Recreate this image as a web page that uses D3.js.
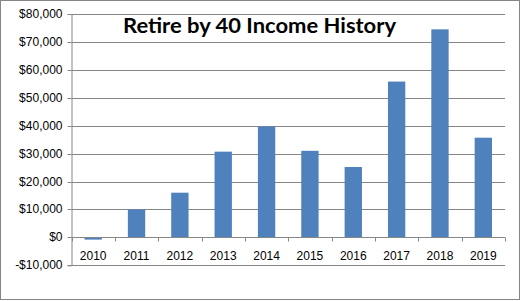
<!DOCTYPE html>
<html><head><meta charset="utf-8">
<script src="https://cdn.jsdelivr.net/npm/d3@7"></script>
<style>body{margin:0;background:#fff}svg{display:block}</style>
</head><body>
<script>
const years = ["2010","2011","2012","2013","2014","2015","2016","2017","2018","2019"];
const income = [-800, 10000, 16000, 30700, 39700, 31000, 25200, 55800, 74500, 35700];
const yTicks = [-10000, 0, 10000, 20000, 30000, 40000, 50000, 60000, 70000, 80000];
const chartTitle = "Retire by 40 Income History";

(function(){
const W = 521, H = 301;
const svg = d3.select("body").append("svg").attr("width", W).attr("height", H);
svg.append("rect").attr("x",0.5).attr("y",0.5).attr("width",519).attr("height",299)
  .attr("fill","#fff").attr("stroke","#868686");

const pL = 71.5, pR = 505, pT = 14, pB = 265.3;
const y = d3.scaleLinear().domain([-10000, 80000]).range([pB, pT]);
const x = d3.scaleBand().domain(years).range([pL, pR]).paddingInner(0.6).paddingOuter(0.3);
const xb = d3.scaleBand().domain(years).range([pL, pR]);

// gridlines
svg.append("g").selectAll("line").data(yTicks).join("line")
  .attr("x1", pL).attr("x2", pR)
  .attr("y1", d => Math.round(y(d)) + 0.5).attr("y2", d => Math.round(y(d)) + 0.5)
  .attr("stroke", "#868686").attr("stroke-width", 1);

// y axis
const yAxis = d3.axisLeft(y).tickValues(yTicks).tickSize(4).tickPadding(5)
  .tickFormat(d => (d < 0 ? "-$" : "$") + d3.format(",")(Math.abs(d)));
const gy = svg.append("g").attr("transform", `translate(${pL},0)`).call(yAxis);
gy.select(".domain").attr("stroke", "#868686");
gy.selectAll(".tick line").attr("stroke", "#868686");
gy.selectAll(".tick").attr("transform", d => `translate(0,${Math.round(y(d)) + 0.5})`);
gy.selectAll("text").attr("font-family", "Liberation Sans, Arial, sans-serif")
  .attr("font-size", 12).attr("fill", "#000");

// bars
svg.append("g").selectAll("rect").data(years).join("rect")
  .attr("x", d => x(d))
  .attr("width", x.bandwidth())
  .attr("y", (d, i) => y(Math.max(0, income[i])))
  .attr("height", (d, i) => Math.abs(y(income[i]) - y(0)))
  .attr("fill", "#4F81BD");

// x axis at zero
const y0 = Math.round(y(0)) + 0.5;
const gx = svg.append("g").attr("transform", `translate(0,${y0})`);
gx.append("line").attr("x1", pL).attr("x2", pR).attr("stroke", "#868686");
gx.selectAll("line.tk").data(d3.range(years.length + 1)).join("line").attr("class","tk")
  .attr("x1", i => Math.round(pL + i * xb.step()) + 0.5)
  .attr("x2", i => Math.round(pL + i * xb.step()) + 0.5)
  .attr("y1", 0).attr("y2", 4).attr("stroke", "#868686");
gx.selectAll("text").data(years).join("text")
  .attr("x", d => xb(d) + xb.bandwidth() / 2)
  .attr("y", 22)
  .attr("text-anchor", "middle")
  .attr("font-family", "Liberation Sans, Arial, sans-serif")
  .attr("font-size", 12).attr("fill", "#000")
  .text(d => d);

// title
svg.append("text").attr("x", 259.5).attr("y", 33)
  .attr("text-anchor", "middle")
  .attr("font-family", "Lato, sans-serif").attr("font-weight", "bold")
  .attr("font-size", 20).attr("fill", "#000")
  .attr("textLength", 273).attr("lengthAdjust", "spacingAndGlyphs")
  .text(chartTitle);
})();
</script>
</body></html>
